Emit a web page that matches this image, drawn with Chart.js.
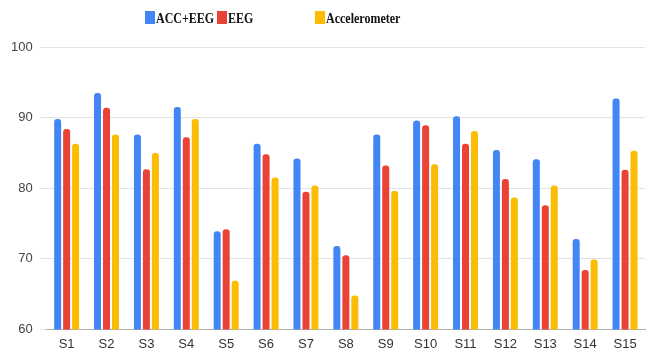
<!DOCTYPE html>
<html>
<head>
<meta charset="utf-8">
<script src="https://cdn.jsdelivr.net/npm/chart.js@4/dist/chart.umd.min.js"></script>
<style>
  html, body { margin: 0; padding: 0; background: #fff; }
  #wrap { position: relative; width: 649px; height: 352px; }
  #legend { position: absolute; left: 0; top: 0; width: 649px; height: 40px; }
  .item { position: absolute; top: 11px; font: bold 12px "Liberation Serif", "Times New Roman", serif; color: #111; white-space: nowrap; }
  .item .txt { display: inline-block; transform: scaleY(1.2); }
  .box { display: inline-block; width: 10px; height: 13px; vertical-align: -2px; margin-right: 1px; }
</style>
</head>
<body>
<div id="wrap">
  <canvas id="chart" width="649" height="352"></canvas>
  <div id="legend"></div>
</div>
<script>
const subjects = ["S1", "S2", "S3", "S4", "S5", "S6", "S7", "S8", "S9", "S10", "S11", "S12", "S13", "S14", "S15"];
const accEeg = [89.8, 93.5, 87.6, 91.5, 73.9, 86.3, 84.2, 71.8, 87.6, 89.6, 90.2, 85.4, 84.1, 72.8, 92.7];
const eeg = [88.4, 91.4, 82.7, 87.2, 74.2, 84.8, 79.5, 70.5, 83.2, 88.9, 86.3, 81.3, 77.6, 68.4, 82.6];
const accel = [86.3, 87.6, 85.0, 89.8, 66.9, 81.5, 80.4, 64.8, 79.6, 83.4, 88.1, 78.7, 80.4, 69.9, 85.3];
const seriesNames = ["ACC+EEG", "EEG", "Accelerometer"];
const seriesColors = ["#4285F4", "#EA4335", "#FBBC04"];
const yTicks = [60, 70, 80, 90, 100];

// legend spots in the reference are not evenly spaced
const legendLeft = [145, 217, 315];

(function () {
  const legend = document.getElementById("legend");
  seriesNames.forEach((name, i) => {
    const el = document.createElement("div");
    el.className = "item";
    el.style.left = legendLeft[i] + "px";
    el.innerHTML = `<span class="box" style="background:${seriesColors[i]}"></span><span class="txt">${name}</span>`;
    legend.appendChild(el);
  });

  const values = [accEeg, eeg, accel];
  new Chart(document.getElementById("chart"), {
    type: "bar",
    data: {
      labels: subjects,
      datasets: values.map((v, i) => ({
        label: seriesNames[i],
        data: v,
        backgroundColor: seriesColors[i],
        borderRadius: { topLeft: 3, topRight: 3 },
        borderSkipped: "bottom",
        categoryPercentage: 0.675,
        barPercentage: 0.78,
      })),
    },
    options: {
      responsive: false,
      animation: false,
      layout: { padding: { top: 47, right: 4, left: 4, bottom: -7 } },
      plugins: { legend: { display: false }, tooltip: { enabled: false } },
      scales: {
        x: {
          grid: { display: false, drawTicks: false },
          border: { display: true, color: "#b0b0b0", width: 1 },
          ticks: {
            color: "#333",
            padding: 7,
            font: { family: "Liberation Sans, Arial, sans-serif", size: 13 },
          },
        },
        y: {
          min: yTicks[0],
          max: yTicks[yTicks.length - 1],
          afterBuildTicks: (axis) => { axis.ticks = yTicks.map(v => ({ value: v })); },
          grid: { color: "#e3e3e3", tickLength: 7, tickColor: "#e3e3e3" },
          border: { display: false },
          ticks: {
            color: "#444",
            padding: 7,
            font: { family: "Liberation Sans, Arial, sans-serif", size: 13 },
          },
        },
      },
    },
  });
})();
</script>
</body>
</html>
